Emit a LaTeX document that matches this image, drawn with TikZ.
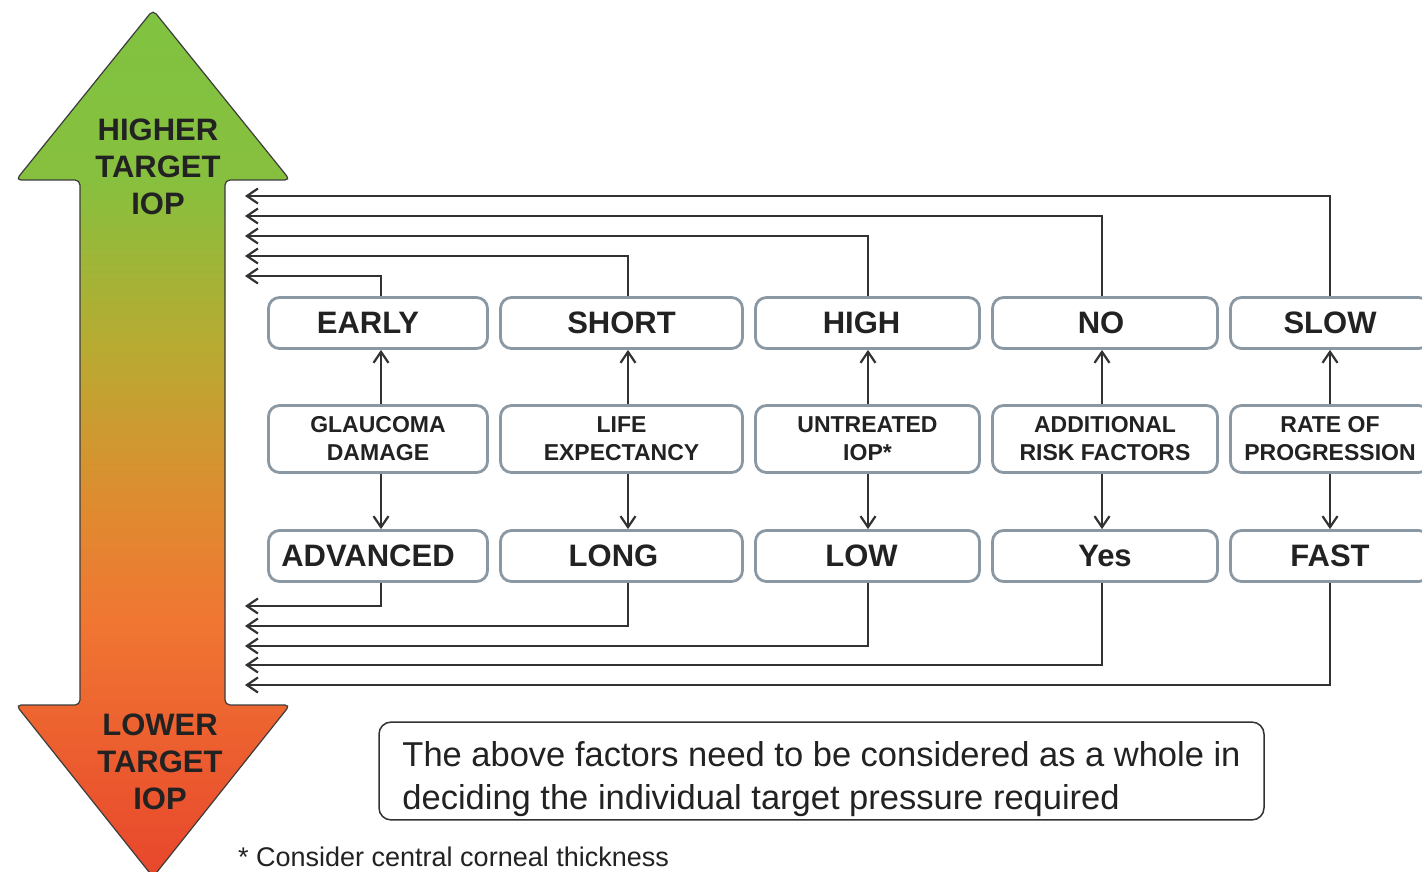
\documentclass[tikz,border=0pt]{standalone}
\usepackage{fontspec}
\setmainfont{Liberation Sans}
\usetikzlibrary{arrows.meta}
\definecolor{boxgray}{RGB}{138,152,163}
\definecolor{linegray}{RGB}{50,50,50}
\definecolor{txt}{RGB}{34,34,34}
\definecolor{arrowborder}{RGB}{60,60,60}
\pgfdeclareverticalshading{iopgrad}{100bp}{rgb(0bp)=(0.91,0.275,0.173); rgb(25bp)=(0.91,0.275,0.173); rgb(39.8bp)=(0.941,0.463,0.196); rgb(46.7bp)=(0.871,0.549,0.188); rgb(55.4bp)=(0.725,0.667,0.196); rgb(65.2bp)=(0.529,0.753,0.243); rgb(75bp)=(0.502,0.761,0.255); rgb(100bp)=(0.502,0.761,0.255)}
\begin{document}
\begin{tikzpicture}[x=1pt,y=-1pt,
  fbox/.style={draw=boxgray, line width=2.8pt, rounded corners=11pt, fill=white, inner sep=0pt, text=txt},
  bigbox/.style={fbox, minimum height=51pt, font=\fontsize{31}{35}\selectfont\bfseries},
  midbox/.style={fbox, minimum height=67pt, align=center, font=\fontsize{23}{28}\selectfont\bfseries},
  conn/.style={draw=linegray, line width=1.5pt, -{Straight Barb[length=11pt,width=15pt,line width=2.2pt]}},
  arrowlbl/.style={align=center, text=txt, inner sep=0pt, font=\fontsize{31}{37}\selectfont\bfseries},
  notebox/.style={draw=linegray, line width=1.5pt, rounded corners=12pt, minimum width=885pt, minimum height=96pt, align=left, text=txt, font=\fontsize{34.5}{43}\selectfont}]
\useasboundingbox (0,0) rectangle (1422,872);
\fill[white] (0,0) rectangle (1422,872);
% big double arrow
\shadedraw[shading=iopgrad, draw=arrowborder, line width=1.2pt, rounded corners=5pt]
  (153,10) -- (290,180) -- (225,180) -- (225,705) -- (290,705) -- (153,877)
  -- (16,705) -- (80,705) -- (80,180) -- (16,180) -- cycle;
\node[arrowlbl] (hi) at (158,167) {HIGHER\\TARGET\\IOP};
\node[arrowlbl] (lo) at (160,762) {LOWER\\TARGET\\IOP};
% top row
\node[bigbox, minimum width=219pt] (early) at (378,323) {EARLY\kern20pt};
\node[bigbox, minimum width=242pt] (short) at (621.5,323) {SHORT};
\node[bigbox, minimum width=224pt] (high) at (867.5,323) {HIGH\kern12pt};
\node[bigbox, minimum width=225pt] (no) at (1105,323) {NO\kern8pt};
\node[bigbox, minimum width=199pt] (slow) at (1330,323) {SLOW};
% middle row
\node[midbox, minimum width=219pt] (gd) at (378,439) {GLAUCOMA\\DAMAGE};
\node[midbox, minimum width=242pt] (le) at (621.5,439) {LIFE\\EXPECTANCY};
\node[midbox, minimum width=224pt] (ui) at (867.5,439) {UNTREATED\\IOP*};
\node[midbox, minimum width=225pt] (ar) at (1105,439) {ADDITIONAL\\RISK FACTORS};
\node[midbox, minimum width=199pt] (rp) at (1330,439) {RATE OF\\PROGRESSION};
% bottom row
\node[bigbox, minimum width=219pt] (adv) at (378,556) {ADVANCED\kern20pt};
\node[bigbox, minimum width=242pt] (long) at (621.5,556) {LONG\kern16pt};
\node[bigbox, minimum width=224pt] (low) at (867.5,556) {LOW\kern12pt};
\node[bigbox, minimum width=225pt] (yes) at (1105,556) {Yes};
\node[bigbox, minimum width=199pt] (fast) at (1330,556) {FAST};
% vertical arrows
\foreach \m/\t/\b/\s in {gd/early/adv/3, le/short/long/6.5, ui/high/low/0.5, ar/no/yes/-3, rp/slow/fast/0}{
  \draw[conn] ([xshift=\s pt]\m.north) -- ([xshift=\s pt]\t.south);
  \draw[conn] ([xshift=\s pt]\m.south) -- ([xshift=\s pt]\b.north);
}
% feedback coordinates
\coordinate (t1) at (245,276);
\coordinate (t2) at (245,256);
\coordinate (t3) at (245,236);
\coordinate (t4) at (245,216);
\coordinate (t5) at (245,196);
\coordinate (b1) at (245,606);
\coordinate (b2) at (245,626);
\coordinate (b3) at (245,646);
\coordinate (b4) at (245,665);
\coordinate (b5) at (245,685);
\draw[conn] ([xshift=3pt]early.north) |- (t1);
\draw[conn] ([xshift=6.5pt]short.north) |- (t2);
\draw[conn] ([xshift=0.5pt]high.north) |- (t3);
\draw[conn] ([xshift=-3pt]no.north) |- (t4);
\draw[conn] (slow.north) |- (t5);
\draw[conn] ([xshift=3pt]adv.south) |- (b1);
\draw[conn] ([xshift=6.5pt]long.south) |- (b2);
\draw[conn] ([xshift=0.5pt]low.south) |- (b3);
\draw[conn] ([xshift=-3pt]yes.south) |- (b4);
\draw[conn] (fast.south) |- (b5);
% note
\node[notebox] (note) at (821.5,771) {\rule{0pt}{41pt}The above factors need to be considered as a whole in\\deciding the individual target pressure required};
\node[anchor=west, inner sep=0pt, text=txt, font=\fontsize{27}{30}\selectfont] (fn) at (238,857) {* Consider central corneal thickness};
\end{tikzpicture}
\end{document}
